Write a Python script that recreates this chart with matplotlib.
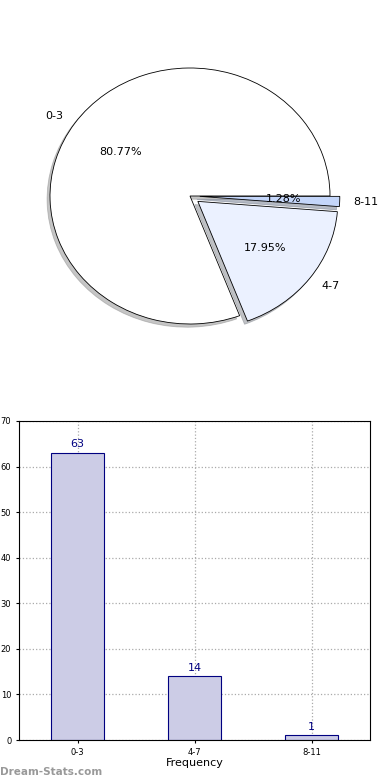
import matplotlib
matplotlib.use("Agg")
import matplotlib.pyplot as plt

categories = ["0-3", "4-7", "8-11"]
counts = [63, 14, 1]
pie_colors = ["#FFFFFF", "#EBF1FF", "#C4D6FA"]
explode = [0.0, 0.07, 0.07]
yticks = [0, 10, 20, 30, 40, 50, 60, 70]

fig = plt.figure(figsize=(3.9, 7.8), dpi=100)

# Pie chart (elliptical, aspect not equal)
axp = fig.add_axes([15/390, 424/780, 350/390, 320/780])
wedges, texts, autotexts = axp.pie(
    counts, labels=categories, colors=pie_colors, explode=explode,
    autopct="%.2f%%", pctdistance=0.6, labeldistance=1.1,
    startangle=0, counterclock=True,
    shadow=dict(ox=-0.015, oy=-0.018, shade=0.45),
    wedgeprops=dict(edgecolor="black", linewidth=0.6),
    textprops=dict(fontsize=8, color="black"))
axp.set_aspect("auto")
axp.set_xlim(-1.25, 1.25)
axp.set_ylim(-1.25, 1.25)
axp.axis("off")

# Bar chart
axb = fig.add_axes([19/390, 40/780, 351/390, 319/780])
x = list(range(len(categories)))
bars = axb.bar(x, counts, width=0.45, color="#CCCCE6", edgecolor="#000080",
               linewidth=0.8, zorder=2)
for xi, v in zip(x, counts):
    axb.text(xi, v + 0.8, str(v), ha="center", va="bottom", color="#000080",
             fontsize=8, zorder=3)
axb.set_xlim(-0.5, 2.5)
axb.set_ylim(0, 70)
axb.set_yticks(yticks)
axb.set_xticks(x)
axb.set_xticklabels(categories)
axb.tick_params(labelsize=6, length=2)
axb.grid(True, linestyle=":", color="#AAAAAA", linewidth=0.9, zorder=0)
axb.set_axisbelow(True)
axb.set_xlabel("Frequency", fontsize=8, labelpad=1)

fig.text(0.0, 8/780, "Dream-Stats.com", fontsize=7.5, color="#999999",
         fontweight="bold", ha="left", va="center")

fig.savefig("out.png", dpi=100)
